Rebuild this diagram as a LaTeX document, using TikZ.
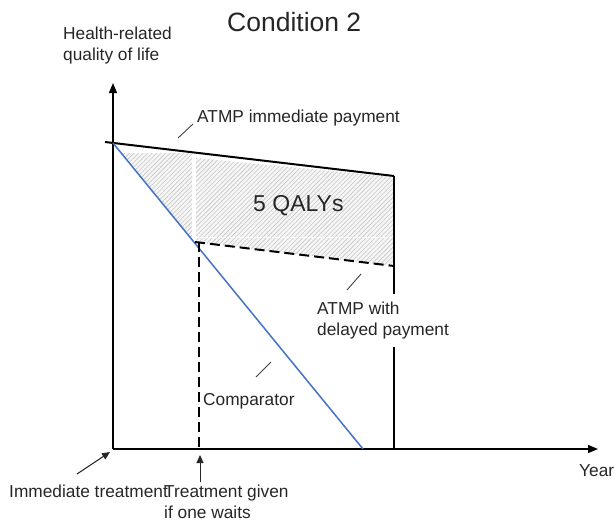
\documentclass[tikz,border=0pt]{standalone}
\usepackage{fontspec}
\setmainfont{Liberation Sans}
\usetikzlibrary{arrows.meta,patterns.meta}
\definecolor{cblue}{HTML}{4472C4}
\definecolor{lead}{HTML}{404040}
\begin{document}
\begin{tikzpicture}[x=1pt,y=-1pt,
  lbl/.style={inner sep=0pt,font=\fontsize{17.3}{20.5}\selectfont,text=black!85,align=left},
  axisline/.style={line width=1.3pt,-{Triangle[length=10pt,width=8pt]}},
  leader/.style={draw=lead,line width=0.9pt},
  ptr/.style={line width=1pt,draw=black!85,-{Triangle[length=8pt,width=7pt]}},
  hatchbg/.style={fill=gray!7},
  hatch/.style={pattern={Lines[angle=45,distance=3.2pt,line width=0.6pt]},pattern color=gray!45}]
\useasboundingbox (0,0) rectangle (615,527);
% coordinates
\coordinate (O) at (113,449);
\coordinate (Ytip) at (113,83);
\coordinate (Xtip) at (598,449);
\coordinate (TL) at (105,142);
\coordinate (TR) at (394,176);
\coordinate (BR) at (394,449);
\coordinate (B0) at (113,143);
\coordinate (B1) at (363,449);
\coordinate (M) at (195,242);
\coordinate (DR) at (394,266);
\coordinate (V0) at (199,242);
\coordinate (V1) at (199,449);
% hatched area
\coordinate (h1) at (121.2,153);
\coordinate (h2) at (192,153);
\coordinate (h3) at (192,239.7);
\coordinate (h4) at (196,158);
\coordinate (h5) at (394,177);
\coordinate (h6) at (394,266);
\coordinate (h7) at (196,242);
\fill[hatchbg] (h1) -- (h2) -- (h3) -- cycle;
\fill[hatch] (h1) -- (h2) -- (h3) -- cycle;
\fill[hatchbg] (h4) -- (h5) -- (h6) -- (h7) -- cycle;
\fill[hatch] (h4) -- (h5) -- (h6) -- (h7) -- cycle;
\coordinate (w1) at (197,237);
\coordinate (w2) at (392,237);
\draw[white,line width=0.8pt,dash pattern=on 1.5pt off 1.5pt] (w1) -- (w2);
% axes
\draw[axisline] (O) -- (Ytip);
\draw[axisline] (O) -- (Xtip);
% curves
\draw[line width=2pt] (TL) -- (TR);
\draw[line width=1.8pt] (TR) -- (BR);
\draw[cblue,line width=1.5pt] (B0) -- (B1);
\draw[line width=2pt,dash pattern=on 10pt off 5pt] (M) -- (DR);
\draw[line width=1.8pt,dash pattern=on 10pt off 5pt] (V0) -- (V1);
% texts
\node[lbl,anchor=base west,font=\fontsize{26.5}{30}\selectfont] (title) at (227,32) {Condition 2};
\node[lbl,anchor=base west] (hq) at (63,60) {Health-related\\quality of life};
\node[lbl,anchor=base west] (imm) at (197,122) {ATMP immediate payment};
\node[lbl,anchor=base west,font=\fontsize{23}{26}\selectfont] (qaly) at (253,211) {5 QALYs};
\node[lbl,anchor=base west,fill=white,inner xsep=1pt,inner ysep=8pt] (del) at (316,335) {ATMP with\\delayed payment};
\node[lbl,anchor=base west] (comp) at (203,405) {Comparator};
\node[lbl,anchor=base west] (year) at (579,476) {Year};
\node[lbl,anchor=base west] (it) at (9,497) {Immediate treatment};
\node[lbl,anchor=base west] (tg) at (164,518) {Treatment given\\if one waits};
% leaders
\coordinate (l1a) at (178,138); \coordinate (l1b) at (193,124);
\coordinate (l2a) at (347,290); \coordinate (l2b) at (361,274);
\coordinate (l3a) at (256,377); \coordinate (l3b) at (271,362);
\draw[leader] (l1a) -- (l1b);
\draw[leader] (l2a) -- (l2b);
\draw[leader] (l3a) -- (l3b);
% pointers
\coordinate (p1a) at (77,474); \coordinate (p1b) at (110,452);
\coordinate (p2a) at (200,482); \coordinate (p2b) at (200,455);
\draw[ptr] (p1a) -- (p1b);
\draw[ptr] (p2a) -- (p2b);
\end{tikzpicture}
\end{document}
